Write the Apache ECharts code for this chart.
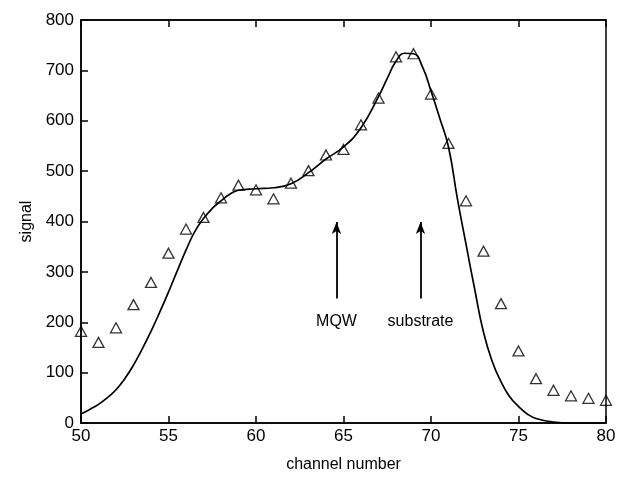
<!DOCTYPE html>
<html><head><meta charset="utf-8">
<script src="https://cdn.jsdelivr.net/npm/echarts@6/dist/echarts.min.js"></script>
<style>html,body{margin:0;padding:0;background:#fff}#c{width:623px;height:478px}</style>
</head><body><div id="c"></div>
<script>
// measured data points (triangles)
const channels = [50,51,52,53,54,55,56,57,58,59,60,61,62,63,64,65,66,67,68,69,70,71,72,73,74,75,76,77,78,79,80];
const signal = [182,160,189,235,279,337,385,408,447,472,463,445,476,501,532,543,592,645,727,733,653,555,441,341,237,143,88,65,54,49,45];
// fitted curve
const fitX = [50,50.5,51,51.5,52,52.5,53,53.5,54,54.5,55,55.5,56,56.5,57,57.5,58,58.5,59,60,61,62,63,64,65,66,67,67.5,68,68.5,69,69.5,70,70.5,71,71.5,72,72.5,73,73.5,74,74.5,75,75.5,76,77,78,79,80];
const fitY = [18,27,37,50,66,88,115,147,182,220,260,302,343,380,406,426,441,454,462,465,467,475,497,524,548,586,648,684,718,734,733,708,659,605,548,447,355,265,180,122,82,52,33,18,9,2,0,0,0];
// annotations
const arrowX = [64.6, 69.4];
const arrowY0 = [247, 247];
const arrowY1 = [399, 399];
const arrowLabels = ['MQW','substrate'];
const labelY = [202, 202];

const font = 'Liberation Sans, Arial, Helvetica, sans-serif';
const chart = echarts.init(document.getElementById('c'));
const pts = channels.map((c,i)=>[c, signal[i]]);
const fit = fitX.map((x,i)=>[x, fitY[i]]);
const markData = arrowX.map((x,i)=>[{coord:[x, arrowY0[i]]},{coord:[x, arrowY1[i]]}]);
const labelPoints = arrowX.map((x,i)=>({coord:[x, labelY[i]], name: arrowLabels[i]}));
chart.setOption({
  animation:false,
  backgroundColor:'#fff',
  grid:{left:81, right:17, top:20, bottom:53, show:true, borderColor:'#000', borderWidth:1.5, backgroundColor:'transparent'},
  xAxis:[{
    type:'value', min:50, max:80, interval:5,
    name:'channel number', nameLocation:'middle', nameGap:34,
    nameTextStyle:{fontFamily:font, fontSize:16, color:'#000'},
    axisLine:{show:true, lineStyle:{color:'#000', width:1.5}},
    axisTick:{show:true, inside:true, length:7, lineStyle:{color:'#000', width:1.5}},
    axisLabel:{fontFamily:font, fontSize:17, color:'#000', margin:5},
    splitLine:{show:false}
  },{
    type:'value', min:50, max:80, interval:5, position:'top',
    axisLine:{show:true, lineStyle:{color:'#000', width:1.5}},
    axisTick:{show:true, inside:true, length:7, lineStyle:{color:'#000', width:1.5}},
    axisLabel:{show:false}, splitLine:{show:false}
  }],
  yAxis:{
    type:'value', min:0, max:800, interval:100,
    name:'signal', nameLocation:'middle', nameGap:46,
    nameTextStyle:{fontFamily:font, fontSize:16, color:'#000'},
    axisLine:{show:true, lineStyle:{color:'#000', width:1.5}},
    axisTick:{show:true, inside:true, length:7, lineStyle:{color:'#000', width:1.5}},
    axisLabel:{fontFamily:font, fontSize:17, color:'#000', margin:7},
    splitLine:{show:false}
  },
  series:[
    {type:'line', data:fit, smooth:0.5, showSymbol:false, symbol:'none',
     lineStyle:{color:'#000', width:1.7}, z:2,
     markLine:{silent:true, symbol:['none','arrow'], symbolSize:[7,12],
       lineStyle:{color:'#000', width:1.8, type:'solid'}, label:{show:false}, data:markData},
     markPoint:{silent:true, symbol:'circle', symbolSize:1, itemStyle:{color:'rgba(0,0,0,0)'},
       label:{show:true, position:'inside', formatter:p=>p.name, fontFamily:font, fontSize:16,
              color:'#000', textBorderWidth:0},
       data:labelPoints}},
    {type:'scatter', data:pts, symbol:'triangle', symbolSize:[11,10],
     itemStyle:{color:'rgba(255,255,255,0)', borderColor:'#000', borderWidth:1.3}, z:3}
  ]
});
</script></body></html>
